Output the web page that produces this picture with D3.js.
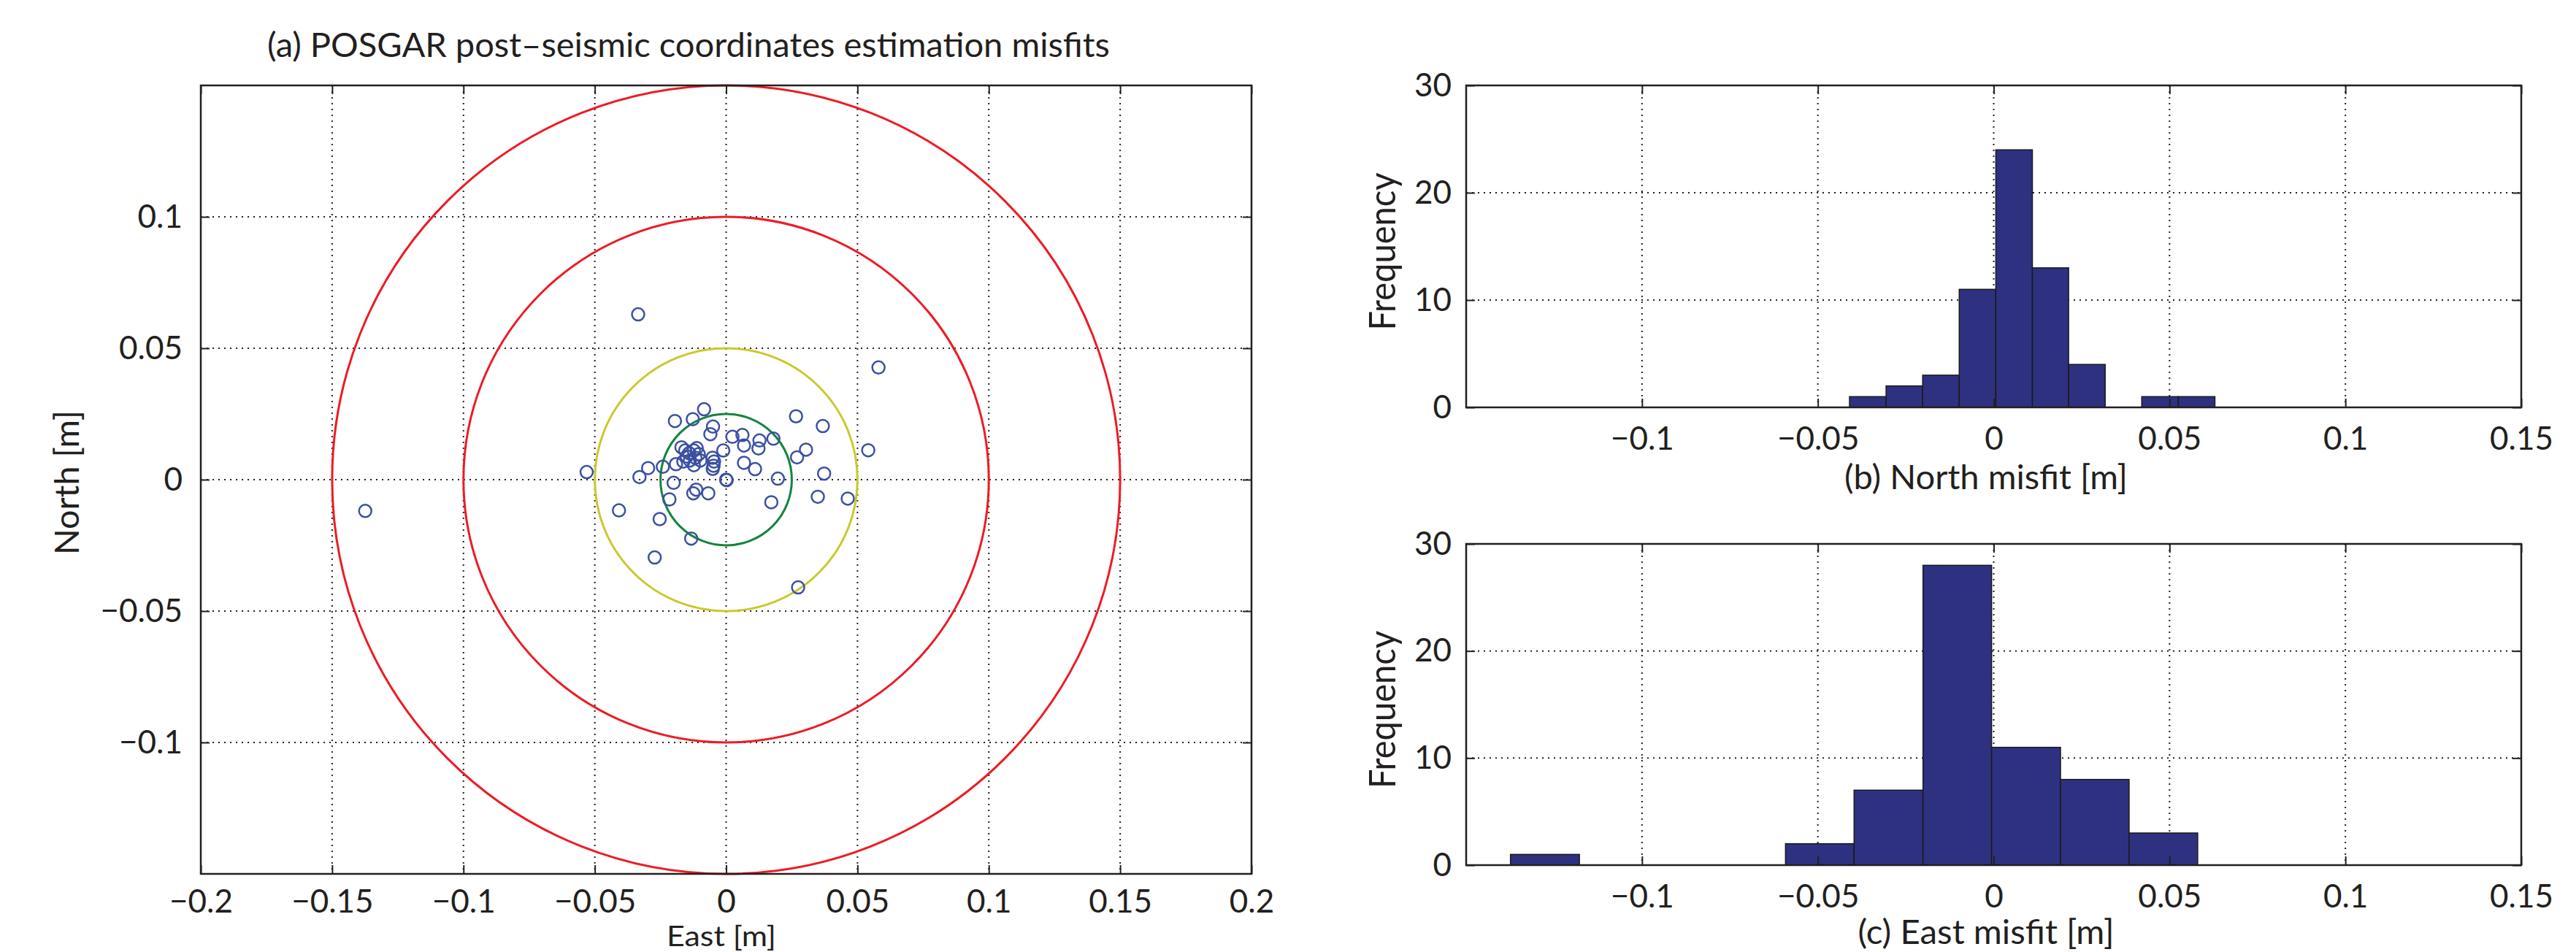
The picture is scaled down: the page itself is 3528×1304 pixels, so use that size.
<!DOCTYPE html>
<html>
<head>
<meta charset="utf-8">
<script src="https://cdn.jsdelivr.net/npm/d3@7"></script>
<style>
  html, body { margin: 0; padding: 0; background: #fff; }
  svg { display: block; }
  text { font-family: "Lato", "Open Sans", sans-serif; fill: #231f20; }
</style>
</head>
<body>
<svg id="chart" width="3528" height="1304"></svg>
<script>
// ---------------- data ----------------
const eastMisfit = [
  -0.0335, 0.0580, -0.0084, -0.0195, -0.0127, -0.0050, -0.0060, 0.0266, 0.0368, 0.0024,
   0.0062, 0.0127,  0.0068,  0.0123,  0.0180,  0.0304,  0.0270, 0.0541, -0.0011, -0.0170,
  -0.0156, -0.0141, -0.0123, -0.0104, -0.0117, -0.0138, -0.0163, -0.0191, -0.0123, -0.0098,
  -0.0052, -0.0046, -0.0048, -0.0051, -0.0241, -0.0297, -0.0330, -0.0531, 0.0068, 0.0110,
   0.0000, 0.0002, 0.0197, 0.0373, -0.0200, -0.0114, -0.0125, -0.0068, -0.0216, 0.0172,
   0.0349, 0.0463, -0.0408, -0.0253, -0.0133, -0.0272, 0.0274, -0.1374, -0.0150, -0.0112
];
const northMisfit = [
   0.0629, 0.0427, 0.0268, 0.0223, 0.0230, 0.0202, 0.0173, 0.0241, 0.0204, 0.0163,
   0.0170, 0.0149, 0.0130, 0.0119, 0.0156, 0.0114, 0.0085, 0.0112, 0.0111, 0.0123,
   0.0111, 0.0101, 0.0111, 0.0097, 0.0083, 0.0073, 0.0069, 0.0059, 0.0055, 0.0073,
   0.0083, 0.0069, 0.0053, 0.0041, 0.0049, 0.0044, 0.0010, 0.0029, 0.0064, 0.0040,
   0.0000, -0.0002, 0.0004, 0.0023, -0.0012, -0.0038, -0.0052, -0.0052, -0.0075, -0.0086,
  -0.0065, -0.0072, -0.0117, -0.0150, -0.0224, -0.0296, -0.0410, -0.0119, 0.0088, 0.0120
];
const circleRadii = [0.025, 0.05, 0.10, 0.15];
const circleColors = ["#14843f", "#c9c92c", "#ec1c24", "#ec1c24"];

const northBinEdges = [-0.0410, -0.0306, -0.0202, -0.0098, 0.0006, 0.0110, 0.0213, 0.0317, 0.0421, 0.0525, 0.0629];
const northCounts   = [1, 2, 3, 11, 24, 13, 4, 0, 1, 1];
const eastBinEdges  = [-0.1374, -0.1178, -0.0983, -0.0788, -0.0592, -0.0397, -0.0201, -0.0006, 0.0190, 0.0385, 0.0580];
const eastCounts    = [1, 0, 0, 0, 2, 7, 28, 11, 8, 3];

const scatterXTicks = [-0.2, -0.15, -0.1, -0.05, 0, 0.05, 0.1, 0.15, 0.2];
const scatterYTicks = [-0.1, -0.05, 0, 0.05, 0.1];
const histXTicks = [-0.1, -0.05, 0, 0.05, 0.1, 0.15];
const histYTicks = [0, 10, 20, 30];

const titleText = "(a) POSGAR post\u2013seismic coordinates estimation misfits";
const scatterXLabel = "East [m]";
const scatterYLabel = "North [m]";
const histYLabel = "Frequency";
const northHistLabel = "(b) North misfit [m]";
const eastHistLabel = "(c) East misfit [m]";

// ---------------- drawing ----------------
const svg = d3.select("#chart");
const FS = 44;
const fmt = d => d === 0 ? "0" : d3.format("~g")(d);
const GRID_DASH = "2,6";

function styleAxis(g) {
  g.select(".domain").remove();
  g.selectAll(".tick line").attr("stroke", "#231f20").attr("stroke-width", 2);
  g.selectAll(".tick text").attr("font-size", FS).attr("fill", "#231f20")
    .attr("font-family", "Lato, 'Open Sans', sans-serif");
}

function frame(g, x0, x1, y0, y1) {
  g.append("rect").attr("x", x0).attr("y", y0).attr("width", x1 - x0).attr("height", y1 - y0)
    .attr("fill", "none").attr("stroke", "#231f20").attr("stroke-width", 2.5);
}

// ---- scatter panel ----
const sc = { left: 275, right: 1714, top: 117, bottom: 1197 };
const xS = d3.scaleLinear().domain([-0.2, 0.2]).range([sc.left, sc.right]);
const yS = d3.scaleLinear().domain([-0.15, 0.15]).range([sc.bottom, sc.top]);
const gS = svg.append("g");

// grid
gS.append("g").selectAll("line").data(scatterXTicks.slice(1, -1)).join("line")
  .attr("x1", d => xS(d)).attr("x2", d => xS(d)).attr("y1", sc.top).attr("y2", sc.bottom)
  .attr("stroke", "#231f20").attr("stroke-width", 2).attr("stroke-dasharray", GRID_DASH);
gS.append("g").selectAll("line").data(scatterYTicks).join("line")
  .attr("x1", sc.left).attr("x2", sc.right).attr("y1", d => yS(d)).attr("y2", d => yS(d))
  .attr("stroke", "#231f20").attr("stroke-width", 2).attr("stroke-dasharray", GRID_DASH);

// reference circles
gS.append("g").selectAll("ellipse").data(circleRadii).join("ellipse")
  .attr("cx", xS(0)).attr("cy", yS(0))
  .attr("rx", d => xS(d) - xS(0)).attr("ry", d => yS(0) - yS(d))
  .attr("fill", "none").attr("stroke", (d, i) => circleColors[i]).attr("stroke-width", 3);

// points
gS.append("g").selectAll("circle").data(eastMisfit.map((e, i) => [e, northMisfit[i]])).join("circle")
  .attr("cx", d => xS(d[0])).attr("cy", d => yS(d[1])).attr("r", 8.5)
  .attr("fill", "none").attr("stroke", "#3a50a2").attr("stroke-width", 2.5);

// axes
gS.append("g").attr("transform", `translate(0,${sc.bottom})`)
  .call(d3.axisBottom(xS).tickValues(scatterXTicks).tickFormat(fmt).tickSize(-12).tickPadding(22))
  .call(styleAxis);
gS.append("g").attr("transform", `translate(0,${sc.top})`)
  .call(d3.axisTop(xS).tickValues(scatterXTicks).tickFormat("").tickSize(-12))
  .call(styleAxis);
gS.append("g").attr("transform", `translate(${sc.left},0)`)
  .call(d3.axisLeft(yS).tickValues(scatterYTicks).tickFormat(fmt).tickSize(-12).tickPadding(25))
  .call(styleAxis);
gS.append("g").attr("transform", `translate(${sc.right},0)`)
  .call(d3.axisRight(yS).tickValues(scatterYTicks).tickFormat("").tickSize(-12))
  .call(styleAxis);
frame(gS, sc.left, sc.right, sc.top, sc.bottom);

svg.append("text").attr("x", 943).attr("y", 78).attr("text-anchor", "middle")
  .attr("font-size", 46).attr("textLength", 1154).attr("lengthAdjust", "spacingAndGlyphs")
  .text(titleText);
svg.append("text").attr("x", 988).attr("y", 1296).attr("text-anchor", "middle")
  .attr("font-size", 38).attr("textLength", 150).attr("lengthAdjust", "spacingAndGlyphs")
  .text(scatterXLabel);
svg.append("text").attr("transform", "translate(108,661) rotate(-90)").attr("text-anchor", "middle")
  .attr("font-size", 46).attr("textLength", 198).attr("lengthAdjust", "spacingAndGlyphs")
  .text(scatterYLabel);

// ---- histograms ----
function histogram(box, edges, counts, xLabel, xLabelBaseline, xLabelWidth) {
  const x = d3.scaleLinear().domain([-0.15, 0.15]).range([box.left, box.right]);
  const y = d3.scaleLinear().domain([0, 30]).range([box.bottom, box.top]);
  const g = svg.append("g");
  g.append("g").selectAll("line").data(histXTicks.slice(0, -1)).join("line")
    .attr("x1", d => x(d)).attr("x2", d => x(d)).attr("y1", box.top).attr("y2", box.bottom)
    .attr("stroke", "#231f20").attr("stroke-width", 2).attr("stroke-dasharray", GRID_DASH);
  g.append("g").selectAll("line").data(histYTicks.slice(1, -1)).join("line")
    .attr("x1", box.left).attr("x2", box.right).attr("y1", d => y(d)).attr("y2", d => y(d))
    .attr("stroke", "#231f20").attr("stroke-width", 2).attr("stroke-dasharray", GRID_DASH);
  g.append("g").selectAll("rect").data(counts).join("rect")
    .attr("x", (d, i) => x(edges[i])).attr("width", (d, i) => x(edges[i + 1]) - x(edges[i]))
    .attr("y", d => y(d)).attr("height", d => y(0) - y(d))
    .attr("fill", "#2e3180").attr("stroke", "#1a1a1a").attr("stroke-width", 1.5);
  g.append("g").attr("transform", `translate(0,${box.bottom})`)
    .call(d3.axisBottom(x).tickValues(histXTicks).tickFormat(fmt).tickSize(-12).tickPadding(27))
    .call(styleAxis);
  g.append("g").attr("transform", `translate(0,${box.top})`)
    .call(d3.axisTop(x).tickValues(histXTicks).tickFormat("").tickSize(-12))
    .call(styleAxis);
  g.append("g").attr("transform", `translate(${box.left},0)`)
    .call(d3.axisLeft(y).tickValues(histYTicks).tickFormat(fmt).tickSize(-12).tickPadding(20))
    .call(styleAxis);
  g.append("g").attr("transform", `translate(${box.right},0)`)
    .call(d3.axisRight(y).tickValues(histYTicks).tickFormat("").tickSize(-12))
    .call(styleAxis);
  frame(g, box.left, box.right, box.top, box.bottom);
  const cy = (box.top + box.bottom) / 2 + 7;
  svg.append("text").attr("transform", `translate(1911,${cy}) rotate(-90)`).attr("text-anchor", "middle")
    .attr("font-size", 50).attr("textLength", 216).attr("lengthAdjust", "spacingAndGlyphs")
    .text(histYLabel);
  svg.append("text").attr("x", 2720).attr("y", xLabelBaseline).attr("text-anchor", "middle")
    .attr("font-size", 46).attr("textLength", xLabelWidth).attr("lengthAdjust", "spacingAndGlyphs")
    .text(xLabel);
}

histogram({ left: 2008, right: 3453, top: 117, bottom: 558 }, northBinEdges, northCounts, northHistLabel, 670, 388);
histogram({ left: 2008, right: 3453, top: 745, bottom: 1185 }, eastBinEdges, eastCounts, eastHistLabel, 1293, 351);
</script>
</body>
</html>
